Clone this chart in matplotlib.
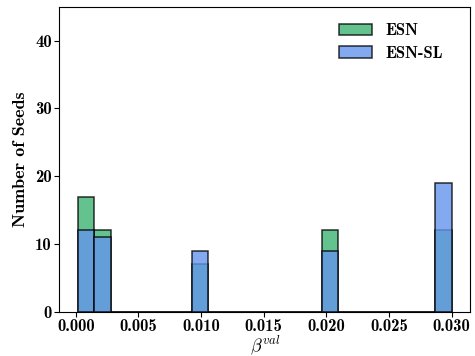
import matplotlib
matplotlib.use('Agg')
import matplotlib.pyplot as plt
import numpy as np

# beta values (representative value for each occupied bin) and seed counts
beta_vals = [0.001, 0.0025, 0.01, 0.02, 0.03]
esn_counts = [17, 12, 7, 12, 12]
esn_sl_counts = [12, 11, 9, 9, 19]
labels = ['ESN', 'ESN-SL']


def main():
    plt.rcParams['font.family'] = 'cmb10'
    plt.rcParams['mathtext.fontset'] = 'cm'
    plt.rcParams['axes.unicode_minus'] = False

    fig = plt.figure(figsize=(4.75, 3.56), dpi=100)
    ax = fig.add_axes([0.125, 0.124, 0.865, 0.857])

    bins = np.linspace(0.00018, 0.03, 24)
    ax.hist(beta_vals, bins=bins, weights=esn_counts, color='mediumseagreen',
            alpha=0.8, edgecolor='black', linewidth=1.1, label=labels[0])
    ax.hist(beta_vals, bins=bins, weights=esn_sl_counts, color='cornflowerblue',
            alpha=0.8, edgecolor='black', linewidth=1.1, label=labels[1])

    ax.set_ylim(0, 45)
    ax.set_xticks([0.0, 0.005, 0.01, 0.015, 0.02, 0.025, 0.03])
    ax.set_xticklabels(['0.000', '0.005', '0.010', '0.015', '0.020', '0.025', '0.030'])
    ax.set_yticks([0, 10, 20, 30, 40])
    ax.tick_params(labelsize=12, pad=2)
    ax.set_xlabel(r'$\beta^{val}$', fontsize=13, labelpad=-1)
    ax.set_ylabel('Number of Seeds', fontsize=13, labelpad=5)
    ax.legend(frameon=False, fontsize=12, loc='upper right',
              bbox_to_anchor=(0.975, 1.0), handlelength=2.0,
              labelspacing=0.45, borderaxespad=0.6)

    fig.savefig('out.png', dpi=100)


if __name__ == '__main__':
    main()
